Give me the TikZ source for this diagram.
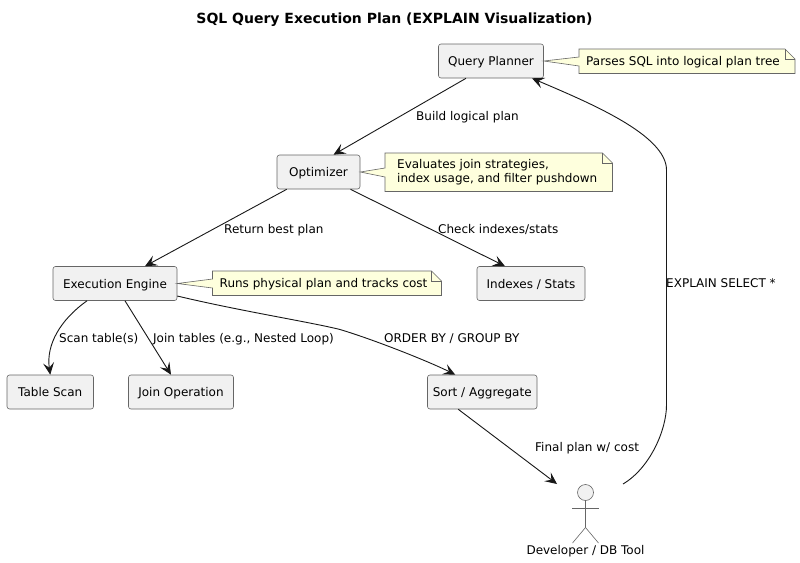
\documentclass[tikz,border=0pt]{standalone}
\usepackage{fontspec}
\setmainfont{DejaVu Sans}
\usetikzlibrary{arrows.meta,calc}
\definecolor{boxfill}{HTML}{F1F1F1}
\definecolor{notefill}{HTML}{FEFFDD}
\definecolor{linecol}{HTML}{181818}
\definecolor{edgecol}{HTML}{666666}
\tikzset{
  every node/.style={font=\fontsize{12}{14.6}\selectfont},
  box/.style={draw=edgecol,line width=0.6pt,fill=boxfill,rounded corners=2.5pt,inner sep=0pt,minimum height=34pt,text height=10pt,text depth=1pt},
  conn/.style={draw=linecol,line width=0.9pt,-{Stealth[length=12pt,width=11pt,inset=5pt]}},
  lab/.style={anchor=base west,inner sep=0pt},
  notetext/.style={inner sep=0pt,align=left},
  noteline/.style={draw=edgecol,line width=0.6pt,fill=notefill,line join=miter},
  actorline/.style={draw=edgecol,line width=0.6pt}
}
\begin{document}
\begin{tikzpicture}[x=1pt,y=-1pt]
\useasboundingbox (0,0) rectangle (800,562);
\fill[white] (0,0) rectangle (800,562);
\node[inner sep=0pt,font=\fontsize{14}{16}\selectfont\bfseries] (title) at (394.5,19.5) {SQL Query Execution Plan (EXPLAIN Visualization)};

\node[box,minimum width=105pt] (qp) at (491,61) {Query Planner};
\node[box,minimum width=83pt] (opt) at (318.5,172) {Optimizer};
\node[box,minimum width=124pt] (exec) at (115,283.5) {Execution Engine};
\node[box,minimum width=108pt] (idx) at (531,283.5) {Indexes / Stats};
\node[box,minimum width=86.5pt] (scan) at (50.25,392) {Table Scan};
\node[box,minimum width=105pt] (join) at (181,392) {Join Operation};
\node[box,minimum width=109.5pt] (sort) at (482.25,392) {Sort / Aggregate};

% notes
\draw[noteline] (579,49) -- (785,49) -- (795,59) -- (795,73.5) -- (579,73.5) -- (579,66) -- (qp.east) -- (579,57) -- cycle;
\draw[noteline,fill=none] (785,49) -- (785,59) -- (795,59);
\node[notetext,anchor=west] (n1) at (586,62) {Parses SQL into logical plan tree};

\draw[noteline] (385,153) -- (602.5,153) -- (612.5,163) -- (612.5,191.5) -- (385,191.5) -- (385,177) -- (opt.east) -- (385,168) -- cycle;
\draw[noteline,fill=none] (602.5,153) -- (602.5,163) -- (612.5,163);
\node[notetext,anchor=west] (n2) at (397,172) {Evaluates join strategies,\\index usage, and filter pushdown};

\draw[noteline] (212.5,271) -- (431.5,271) -- (441.5,281) -- (441.5,295.5) -- (212.5,295.5) -- (212.5,288) -- (exec.east) -- (212.5,279) -- cycle;
\draw[noteline,fill=none] (431.5,271) -- (431.5,281) -- (441.5,281);
\node[notetext,anchor=west] (n3) at (219.5,284.5) {Runs physical plan and tracks cost};

% actor
\coordinate (head) at (585.5,492.5);
\draw[actorline,fill=boxfill] (head) circle[radius=8];
\draw[actorline] (585.5,500.5) -- (585.5,527.5) -- (572.5,543);
\draw[actorline] (585.5,527.5) -- (598.5,543);
\draw[actorline] (572,508.5) -- (599,508.5);
\node[inner sep=0pt] (dev) at (585.5,551) {Developer / DB Tool};
\coordinate (devin) at (557,484);
\coordinate (devout) at (623,484);

% connectors
\draw[conn] ([xshift=-25pt]qp.south) -- ([xshift=15pt]opt.north);
\draw[conn] ([xshift=10pt]opt.south west) -- ([xshift=30pt]exec.north);
\draw[conn] ([xshift=32pt]opt.south) -- ([xshift=-26pt]idx.north);
\draw[conn] ([xshift=-28pt]exec.south) .. controls (60,320) and (46,345) .. (scan.north);
\draw[conn] ([xshift=10pt]exec.south) -- ([xshift=-10pt]join.north);
\draw[conn] ([yshift=-12.5pt]exec.east) .. controls (240,311) and (310,322) .. (340,329.5) .. controls (375,340) and (430,362) .. ([xshift=-27pt]sort.north);
\draw[conn] ([xshift=-24pt]sort.south) -- (devin);
\draw[conn] (devout) .. controls (650,468) and (666.5,430) .. (666.5,405) -- (666.5,170) .. controls (666.5,135) and (590,103) .. ([xshift=41pt]qp.south);

% labels
\node[lab] (l1) at (416,120.5) {Build logical plan};
\node[lab] (l2) at (224,233.5) {Return best plan};
\node[lab] (l3) at (438,233.5) {Check indexes/stats};
\node[lab] (l4) at (59,342.5) {Scan table(s)};
\node[lab] (l5) at (153,342.5) {Join tables (e.g., Nested Loop)};
\node[lab] (l6) at (384,342.5) {ORDER BY / GROUP BY};
\node[lab] (l7) at (535,451.5) {Final plan w/ cost};
\node[lab] (l8) at (666,287.5) {EXPLAIN SELECT *};
\end{tikzpicture}
\end{document}
